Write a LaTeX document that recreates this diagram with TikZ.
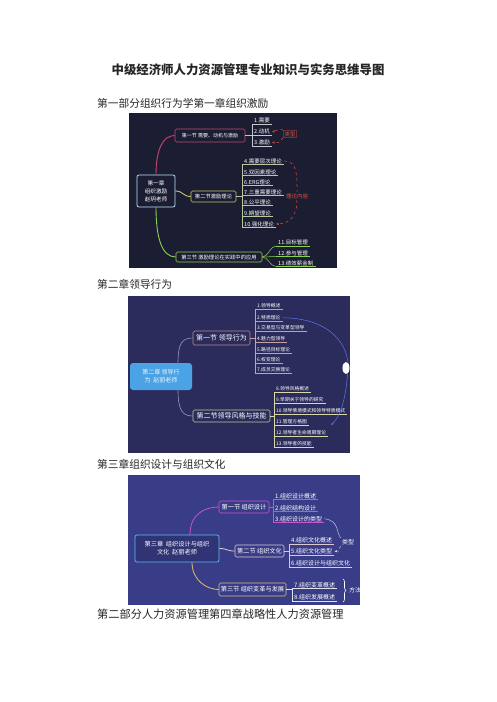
\documentclass[tikz,border=0pt]{standalone}
\usepackage{fontspec}
\setmainfont{Noto Sans CJK SC}
\usetikzlibrary{arrows.meta,positioning,calc,decorations.pathreplacing}

\definecolor{bgone}{HTML}{1B1D33}
\definecolor{bgtwo}{HTML}{2B2C5C}
\definecolor{bgthree}{HTML}{393D88}
\definecolor{pinkred}{HTML}{C8466E}
\definecolor{yel}{HTML}{C8C860}
\definecolor{grn}{HTML}{8CD050}
\definecolor{ulgreen}{HTML}{B8C8A0}
\definecolor{redlbl}{HTML}{E0503C}
\definecolor{hubblue}{HTML}{4BA3E6}
\definecolor{rose}{HTML}{B88A8A}
\definecolor{roseul}{HTML}{C8A0A8}
\definecolor{olive}{HTML}{C8C890}
\definecolor{oliveul}{HTML}{D8D8A8}
\definecolor{mag}{HTML}{D050D0}
\definecolor{pale}{HTML}{E0C8D0}
\definecolor{sand}{HTML}{E0C070}
\definecolor{lightblue}{HTML}{5CC0F0}
\definecolor{linkblue}{HTML}{5A78E8}
\definecolor{linkgray}{HTML}{9A9AB8}

\begin{document}
\begin{tikzpicture}[x=1pt,y=-1pt,
    title/.style={font=\fontsize{12.4}{14}\selectfont\bfseries, text=black!85, inner sep=0},
    head/.style={anchor=west, font=\fontsize{10.7}{12}\selectfont, text=black!85, inner sep=0},
    hub/.style={rounded corners=2pt, line width=0.7pt, align=center, text=white, inner sep=2pt},
    sec/.style={draw=#1, rounded corners=1.5pt, line width=0.6pt, text=white, inner sep=1.5pt},
    item/.style={anchor=south west, inner xsep=2pt, inner ysep=0.8pt, text=white,
        append after command={(\tikzlastnode.south west) edge[draw=#1, line width=0.5pt] (\tikzlastnode.south east)}},
    tag/.style={inner sep=1pt}]

    \useasboundingbox[fill=white] (0,0) rectangle (496,702);

    % headings of the page
    \node[title] (ttl) at (248,70) {中级经济师人力资源管理专业知识与实务思维导图};
    \node[head] (h1) at (97,103) {第一部分组织行为学第一章组织激励};
    \node[head] (h2) at (97,284) {第二章领导行为};
    \node[head] (h3) at (97,464) {第三章组织设计与组织文化};
    \node[head, font=\fontsize{11.2}{12}\selectfont] (h4) at (97,614) {第二部分人力资源管理第四章战略性人力资源管理};

    % map one: organisational motivation
    \fill[bgone] (129,113) rectangle (337,268);
    \node[hub, draw=lightblue!40!white, fill=bgone, minimum width=38, minimum height=32, font=\fontsize{5.6}{8}\selectfont] (c1) at (156,191) {第一章\\组织激励\\赵玥老师};
    \node[sec=pinkred, fill=bgone, minimum width=70, minimum height=13, font=\fontsize{5}{6}\selectfont] (s11) at (210,135.5) {第一节 需要、动机与激励};
    \node[sec=yel, fill=bgone, minimum width=45, minimum height=11, font=\fontsize{5.3}{6}\selectfont] (s12) at (213.5,196.5) {第二节激励理论};
    \node[sec=grn, fill=bgone, minimum width=86, minimum height=10, font=\fontsize{5.3}{6}\selectfont] (s13) at (219,257) {第三节 激励理论在实践中的应用};
    \draw[pinkred, line width=0.9pt] (c1.north) .. controls +(0,-25) and +(-12,0) .. (s11.west);
    \draw[yel, line width=0.9pt] (c1.east) .. controls +(8,0) and +(-8,0) .. (s12.west);
    \draw[grn, line width=0.9pt] (c1.south) .. controls +(0,30) and +(-14,0) .. (s13.west);

    \begin{scope}[font=\fontsize{5.5}{6}\selectfont]
    \node[item=white!75!bgone] (a1) at (252,124) {1.需要};
    \node[item=white!75!bgone] (a2) at (252,135) {2.动机};
    \node[item=white!75!bgone] (a3) at (252,146) {3.激励};
    \draw[white!75!bgone, line width=0.5pt] (a1.south west) -- (a3.south west);
    \draw[white!75!bgone, line width=0.5pt] (s11.east) -- (s11.east -| a2.south west);

    \node[item=ulgreen] (a4) at (242,164.5) {4.需要层次理论};
    \node[item=ulgreen] (a5) at (242,175.5) {5.双因素理论};
    \node[item=ulgreen] (a6) at (242,185.5) {6.ERG理论};
    \node[item=ulgreen] (a7) at (242,195.5) {7.三重需要理论};
    \node[item=ulgreen] (a8) at (242,205.5) {8.公平理论};
    \node[item=ulgreen] (a9) at (242,216.5) {9.期望理论};
    \node[item=ulgreen] (a10) at (242,227.5) {10.强化理论};
    \draw[ulgreen, line width=0.5pt] (a4.south west) -- (a10.south west);
    \draw[ulgreen, line width=0.5pt] (s12.east) -- (s12.east -| a7.south west);

    \node[item=grn] (a11) at (276,246) {11.目标管理};
    \node[item=grn] (a12) at (276,256.5) {12.参与管理};
    \node[item=grn] (a13) at (276,266.5) {13.绩效薪金制};
    \draw[grn, line width=0.5pt] (s13.east) .. controls +(6,0) and +(-6,0) .. (a11.south west);
    \draw[grn, line width=0.5pt] (s13.east) -- (a12.south west);
    \draw[grn, line width=0.5pt] (s13.east) .. controls +(6,0) and +(-6,0) .. (a13.south west);

    % red notes
    \node[tag, text=redlbl, draw=redlbl!40!bgone, line width=0.3pt] (lx1) at (290,134) {类型};
    \draw[redlbl, dashed, line width=0.5pt, -{Stealth[length=3pt]}] (lx1.north west) .. controls +(-6,-3) and +(6,0) .. (a2.east);
    \draw[redlbl, dashed, line width=0.5pt, -{Stealth[length=3pt]}] (lx1.south west) .. controls +(-6,6) and +(8,0) .. (a3.east);
    \node[tag, text=redlbl, fill=bgone] (lx2) at (297,196) {理论内容};
    \draw[redlbl, dashed, line width=0.5pt] (a4.east) .. controls +(14,0) and +(0,-15) .. (lx2.north);
    \draw[redlbl, dashed, line width=0.5pt, -{Stealth[length=3pt]}] (lx2.south) .. controls +(0,18) and +(12,0) .. (a10.east);
    \end{scope}

    % map two: leadership
    \fill[bgtwo] (128,296) rectangle (350,453);
    \node[hub, fill=hubblue, rounded corners=3pt, minimum width=62, minimum height=27, text=white!90!hubblue, font=\fontsize{6}{8}\selectfont] (c2) at (161,376.5) {第二章 领导行\\为\ \ 赵丽老师};
    \node[sec=rose, fill=bgtwo, minimum width=57, minimum height=14, font=\fontsize{7}{8}\selectfont] (s21) at (221.5,338) {第一节 领导行为};
    \node[sec=olive, fill=bgtwo, minimum width=77, minimum height=12, font=\fontsize{7}{8}\selectfont] (s22) at (231.5,416) {第二节领导风格与技能};
    \draw[linkgray, line width=0.6pt] ($(c2.north)+(17,0)$) .. controls +(0,-20) and +(-10,0) .. (s21.west);
    \draw[linkgray, line width=0.6pt] ($(c2.south)+(17,0)$) .. controls +(0,20) and +(-10,0) .. (s22.west);

    \begin{scope}[font=\fontsize{4.8}{5.5}\selectfont]
    \node[item=roseul] (b1) at (255,309) {1.领导概述};
    \node[item=roseul] (b2) at (255,321) {2.特质理论};
    \node[item=roseul] (b3) at (255,331) {3.交易型与变革型领导};
    \node[item=roseul] (b4) at (255,342) {4.魅力型领导};
    \node[item=roseul] (b5) at (255,353) {5.路径目标理论};
    \node[item=roseul] (b6) at (255,363) {6.权变理论};
    \node[item=roseul] (b7) at (255,373) {7.成员交换理论};
    \draw[roseul, line width=0.5pt] (b1.south west) -- (b7.south west);
    \draw[roseul, line width=0.5pt] (s21.east) -- (s21.east -| b4.south west);

    \node[item=oliveul] (b8) at (274,392) {8.领导风格概述};
    \node[item=oliveul] (b9) at (274,403) {9.早期关于领导的研究};
    \node[item=oliveul] (b10) at (274,414) {10.领导情境模式和领导特质模式};
    \node[item=oliveul] (b11) at (274,425) {11.管理方格图};
    \node[item=oliveul] (b12) at (274,436) {12.领导者生命周期理论};
    \node[item=oliveul] (b13) at (274,447) {13.领导者的技能};
    \draw[oliveul, line width=0.5pt] (b8.south west) -- (b13.south west);
    \draw[oliveul, line width=0.5pt] (s22.east) -- (s22.east -| b10.south west);
    \end{scope}

    % blue link and glare
    \coordinate (hit) at (331,425);
    \draw[linkblue, line width=0.5pt, -{Stealth[length=3pt]}] (b2.east) .. controls (330,318) and (350,345) .. (348,370) .. controls (346,395) and (342,415) .. (hit);
    \fill[white] (346,368) ellipse (3.5 and 6);

    % map three: organisation design and culture
    \fill[bgthree] (128,475) rectangle (360,605);
    \node[hub, draw=lightblue, fill=bgthree!85!black, minimum width=84, minimum height=27, font=\fontsize{6.2}{8}\selectfont] (c3) at (177,548.5) {第三章\ \ 组织设计与组织\\文化\ \ 赵丽老师};
    \node[sec=mag, fill=bgthree, minimum width=50, minimum height=12, font=\fontsize{6.2}{7}\selectfont] (s31) at (244,507) {第一节 组织设计};
    \node[sec=pale, fill=bgthree, minimum width=49, minimum height=12, font=\fontsize{6.2}{7}\selectfont] (s32) at (259.5,551) {第二节 组织文化};
    \node[sec=sand, fill=bgthree, minimum width=67, minimum height=13, font=\fontsize{6.2}{7}\selectfont] (s33) at (252.5,589.5) {第三节 组织变革与发展};
    \draw[mag, line width=0.8pt] ($(c3.north)+(13,0)$) .. controls +(0,-22) and +(-12,0) .. (s31.west);
    \draw[pale, line width=0.8pt] (c3.east) .. controls +(8,0) and +(-8,0) .. (s32.west);
    \draw[sand, line width=0.8pt] ($(c3.south)+(15,0)$) .. controls +(0,18) and +(-12,0) .. (s33.west);

    \begin{scope}[font=\fontsize{6}{7}\selectfont]
    \node[item=mag] (d1) at (273,499.5) {1.组织设计概述};
    \node[item=mag] (d2) at (273,511.5) {2.组织结构设计};
    \node[item=mag] (d3) at (273,522.5) {3.组织设计的类型};
    \draw[mag, line width=0.5pt] (d1.south west) -- (d3.south west);
    \draw[mag, line width=0.5pt] (s31.east) -- (s31.east -| d2.south west);

    \node[item=pale] (d4) at (289,544) {4.组织文化概述};
    \node[item=pale] (d5) at (289,555) {5.组织文化类型};
    \node[item=pale] (d6) at (289,567) {6.组织设计与组织文化};
    \draw[pale, line width=0.5pt] (d4.south west) -- (d6.south west);
    \draw[pale, line width=0.5pt] (s32.east) -- (s32.east -| d5.south west);

    \node[item=white!85!bgthree] (d7) at (292,588.5) {7.组织变革概述};
    \node[item=white!85!bgthree] (d8) at (292,601) {8.组织发展概述};
    \draw[white!85!bgthree, line width=0.5pt] (d7.south west) -- (d8.south west);
    \draw[white!85!bgthree, line width=0.5pt] (s33.east) -- (s33.east -| d7.south west);

    % notes on the right
    \node[tag, text=white] (lt3) at (348,542) {类型};
    \draw[white!80!bgthree, line width=0.4pt] (d3.east) .. controls +(15,2) and +(-5,-6) .. (lt3.north west);
    \draw[white!80!bgthree, dashed, line width=0.4pt, -{Stealth[length=3pt]}] (lt3.south west) .. controls +(-4,6) and +(8,0) .. (d5.east);
    \draw[white, line width=0.6pt, decorate, decoration={brace, amplitude=3pt}] (343,579) -- (343,602);
    \node[tag, text=white] (ff) at (355,590.5) {方法};
    \end{scope}
\end{tikzpicture}
\end{document}
